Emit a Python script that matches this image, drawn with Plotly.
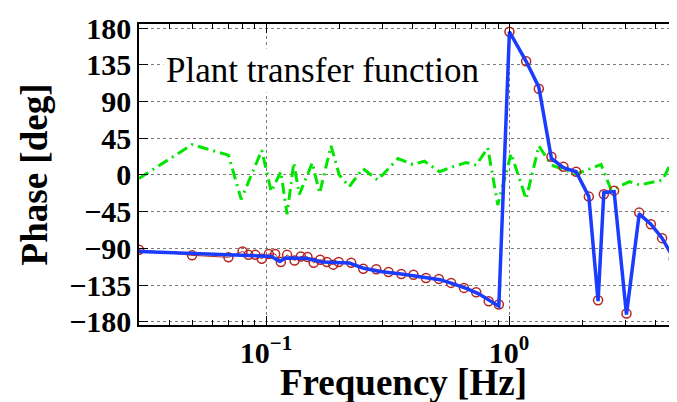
import plotly.graph_objects as go

# Measured phase (red circles)
meas_freq = [0.03, 0.0496, 0.070, 0.080, 0.0846, 0.0903, 0.096, 0.1026, 0.109, 0.115,
             0.122, 0.131, 0.139, 0.148, 0.157, 0.167, 0.178, 0.189, 0.199, 0.224,
             0.251, 0.284, 0.319, 0.360, 0.404, 0.455, 0.514, 0.577, 0.652, 0.732,
             0.824, 0.907, 1.003, 1.175, 1.325, 1.493, 1.673, 1.887, 2.128, 2.323,
             2.453, 2.704, 3.04, 3.43, 3.83, 4.26, 4.76]
meas_phase = [-91.8, -98.6, -101, -93.8, -98, -98, -102.8, -97, -97, -106.8,
              -98, -105, -100, -100.7, -107.7, -104, -106.8, -110, -106.8, -107.7,
              -115, -115.7, -119, -121.4, -122.3, -126.3, -127.5, -132.4, -138.5, -143.8,
              -154.8, -158.9, 175.5, 139.3, 105.6, 22.2, 10, 3.9, -26.6, -153.6,
              -23.8, -19.3, -169.9, -46.2, -60.4, -77.5, -102.8]

# Fitted model (blue line)
fit_freq = [0.03, 0.05, 0.07, 0.08, 0.09, 0.105, 0.114, 0.12, 0.148, 0.17,
            0.199, 0.22, 0.25, 0.29, 0.36, 0.455, 0.52, 0.59, 0.67, 0.75,
            0.83, 0.907, 1.003, 1.175, 1.325, 1.493, 1.673, 1.887, 2.128, 2.323,
            2.453, 2.704, 3.04, 3.43, 3.83, 4.26, 4.76, 5.0]
fit_phase = [-93.8, -95.8, -97.9, -98, -99, -100, -106, -101.9, -102.5, -106.8,
             -108, -108, -114.1, -118.2, -121.4, -125.5, -128.4, -133.6, -139.4, -145.8,
             -154, -160.9, 175.5, 139.3, 107.6, 20.1, 8.8, 3.9, -26.6, -154.8,
             -21.7, -20.5, -171.1, -47.8, -60.4, -77.5, -102.8, -112]

# Residual (green dash-dot)
res_freq = [0.03, 0.0496, 0.070, 0.079, 0.096, 0.105, 0.115, 0.122, 0.130, 0.137,
            0.155, 0.166, 0.185, 0.200, 0.220, 0.250, 0.288, 0.349, 0.401, 0.448,
            0.517, 0.586, 0.666, 0.732, 0.817, 0.898, 1.019, 1.175, 1.325, 1.493,
            1.887, 2.39, 2.63, 3.13, 3.44, 4.29, 4.85]
res_phase = [-4.3, 37.2, 24.2, -29.9, 30.3, -20.5, 3.9, -48.2, 14.9, -24,
             14.9, -22.6, 35.6, 0, -14.4, 7.9, -6.3, 20.1, 12.8, 16.8,
             3.9, 10, 15.2, 12, 33.2, -36.9, 26.2, -29.5, 35.6, 12,
             1, 12.8, -18.5, -8.3, -12.4, -6.3, 28.3]

x_tick_vals = [0.1, 1]
x_tick_text = ["10<sup>−1</sup>", "10<sup>0</sup>"]
x_minor_vals = [0.04, 0.05, 0.06, 0.07, 0.08, 0.09, 0.2, 0.3, 0.4, 0.5, 0.6, 0.7,
                0.8, 0.9, 2, 3, 4, 5]
y_tick_vals = [-180, -135, -90, -45, 0, 45, 90, 135, 180]

fig = go.Figure()
fig.add_trace(go.Scatter(
    x=res_freq, y=res_phase, mode="lines",
    line=dict(color="#00e600", width=3, dash="11px,5px,2px,5px"),
    showlegend=False))
fig.add_trace(go.Scatter(
    x=meas_freq, y=meas_phase, mode="lines+markers",
    line=dict(color="#b5261e", width=1),
    marker=dict(symbol="circle-open", size=9, color="#b5261e", line=dict(width=1.5)),
    showlegend=False))
fig.add_trace(go.Scatter(
    x=fit_freq, y=fit_phase, mode="lines",
    line=dict(color="#1a3cff", width=3.5),
    showlegend=False))

tickfont = dict(family="Liberation Serif", size=30, color="black", weight="bold")
fig.update_layout(
    width=677, height=402,
    margin=dict(l=131, r=4, t=15, b=85),
    paper_bgcolor="white", plot_bgcolor="white",
    xaxis=dict(
        type="log", range=[-1.5229, 0.699],
        tickvals=x_tick_vals, ticktext=x_tick_text,
        ticks="inside", ticklen=9, tickcolor="black", tickwidth=1,
        showline=True, linecolor="black", linewidth=1.5, mirror="allticks",
        showgrid=True, gridcolor="rgba(90,90,90,0.8)", griddash="dot", gridwidth=1,
        minor=dict(tickvals=x_minor_vals, ticks="inside", ticklen=5, tickcolor="black",
                   showgrid=False),
        tickfont=tickfont, zeroline=False,
    ),
    yaxis=dict(
        range=[-184, 185],
        tickvals=y_tick_vals,
        ticks="inside", ticklen=9, tickcolor="black", tickwidth=1,
        showline=True, linecolor="black", linewidth=1.5, mirror="allticks",
        showgrid=True, gridcolor="rgba(90,90,90,0.8)", griddash="dot", gridwidth=1,
        tickfont=tickfont, zeroline=False,
        title=dict(text="Phase [deg]", standoff=10,
                   font=dict(family="Liberation Serif", size=37, color="black", weight="bold")),
    ),
    annotations=[
        dict(text="Plant transfer function", xref="paper", yref="paper",
             x=0.044, y=0.845, xanchor="left", yanchor="middle", showarrow=False,
             bgcolor="white", borderpad=2,
             font=dict(family="Liberation Serif", size=35, color="black")),
        dict(text="Frequency [Hz]", xref="paper", yref="paper",
             x=0.49, y=0, xanchor="center", yanchor="top", yshift=-36, showarrow=False,
             borderpad=0,
             font=dict(family="Liberation Serif", size=37, color="black", weight="bold")),
    ],
)

fig.write_html("out.html")
